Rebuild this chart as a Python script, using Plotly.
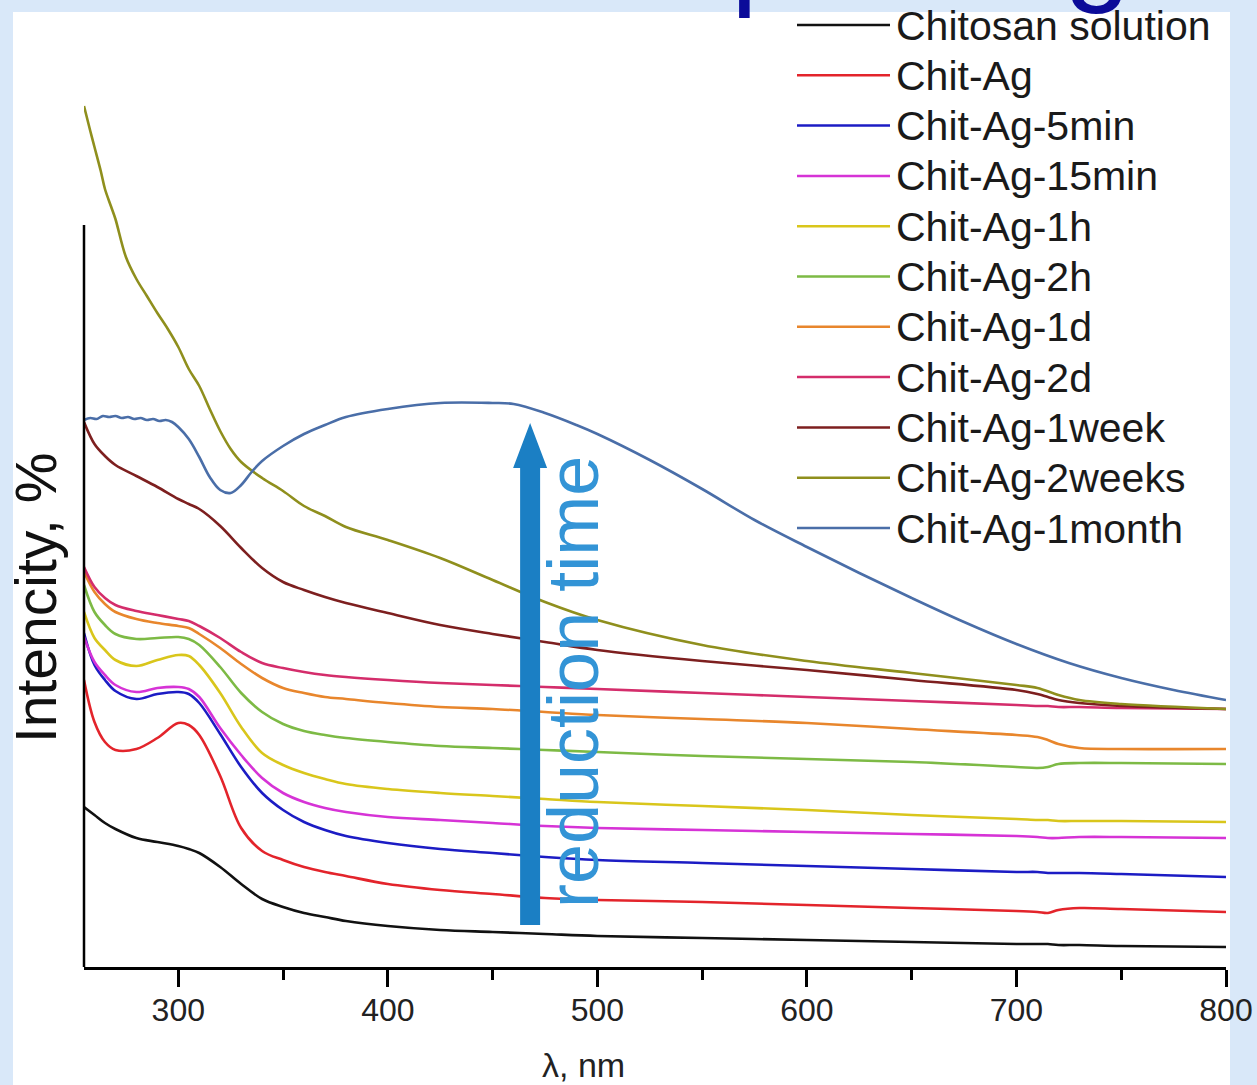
import plotly.graph_objects as go

# ---------------- data ----------------
wavelength_nm = [255, 260, 265, 270, 280, 290, 300, 305, 310,
                 320, 330, 340, 350, 360, 370, 380,
                 400, 425, 450, 475, 500,
                 550, 600, 650, 700,
                 710, 715, 720, 730, 750, 800]

chitosan_solution = [16.0, 15.2, 14.4, 13.8, 12.9, 12.5, 12.1, 11.8, 11.4,
                     10.0, 8.3, 6.8, 6.0, 5.4, 5.0, 4.6,
                     4.1, 3.7, 3.5, 3.3, 3.1,
                     2.9, 2.7, 2.5, 2.3,
                     2.3, 2.3, 2.2, 2.2, 2.1, 2.0]

chit_ag = [28.7, 24.5, 22.5, 21.7, 21.8, 22.9, 24.4, 24.2, 23.2,
           19.1, 13.9, 11.6, 10.7, 10.0, 9.5, 9.1,
           8.3, 7.7, 7.3, 6.9, 6.7,
           6.5, 6.2, 5.9, 5.6,
           5.5, 5.4, 5.7, 5.9, 5.8, 5.5]

chit_ag_5min = [33.4, 30.2, 28.7, 27.6, 26.8, 27.3, 27.5, 27.3, 26.4,
                23.3, 20.0, 17.4, 15.7, 14.5, 13.7, 13.1,
                12.4, 11.8, 11.4, 11.0, 10.7,
                10.4, 10.1, 9.8, 9.5,
                9.5, 9.4, 9.4, 9.4, 9.3, 9.0]

chit_ag_15min = [33.0, 30.5, 29.2, 28.2, 27.5, 27.9, 28.0, 27.8, 27.0,
                 23.9, 21.2, 18.9, 17.4, 16.5, 15.9, 15.5,
                 15.0, 14.7, 14.4, 14.1, 13.9,
                 13.7, 13.5, 13.3, 13.1,
                 13.0, 12.9, 12.9, 13.0, 13.0, 12.9]

chit_ag_1h = [35.5, 32.9, 31.7, 30.7, 30.1, 30.7, 31.2, 31.1, 30.2,
              27.4, 24.0, 21.4, 20.2, 19.4, 18.8, 18.3,
              17.8, 17.4, 17.1, 16.8, 16.5,
              16.1, 15.7, 15.2, 14.8,
              14.7, 14.7, 14.6, 14.6, 14.6, 14.5]

chit_ag_2h = [38.2, 35.5, 34.2, 33.3, 32.8, 32.9, 33.0, 32.8, 32.2,
              30.0, 27.4, 25.5, 24.3, 23.6, 23.2, 22.9,
              22.5, 22.1, 21.9, 21.7, 21.5,
              21.1, 20.8, 20.5, 20.0,
              19.9, 20.0, 20.3, 20.4, 20.4, 20.3]

chit_ag_1d = [39.5, 37.5, 36.3, 35.5, 34.8, 34.4, 34.1, 33.9, 33.3,
              31.9, 30.3, 28.9, 27.9, 27.4, 27.0, 26.8,
              26.4, 26.0, 25.8, 25.5, 25.2,
              24.8, 24.4, 23.8, 23.2,
              23.0, 22.7, 22.3, 21.9, 21.8, 21.8]

chit_ag_2d = [40.0, 38.0, 36.9, 36.2, 35.6, 35.2, 34.8, 34.6, 34.1,
              32.9, 31.5, 30.4, 29.9, 29.5, 29.2, 29.0,
              28.7, 28.4, 28.2, 28.0, 27.8,
              27.4, 27.0, 26.6, 26.2,
              26.1, 26.1, 26.0, 26.0, 25.9, 25.8]

chit_ag_1week = [54.5, 52.3, 51.1, 50.2, 49.1, 48.0, 46.8, 46.3, 45.8,
                 44.1, 41.9, 39.9, 38.5, 37.7, 37.0, 36.4,
                 35.4, 34.2, 33.3, 32.5, 31.7,
                 30.6, 29.7, 28.7, 27.7,
                 27.3, 27.0, 26.7, 26.4, 26.1, 25.8]

wavelength_2weeks_nm = [255, 258, 260, 263, 265, 268, 270, 275, 280, 285, 290, 295,
                        300, 305, 310, 315, 320, 325, 330, 340, 350, 360, 370, 380,
                        400, 425, 450, 475, 500, 550, 600, 650, 700, 710, 720, 730,
                        750, 800]
chit_ag_2weeks = [86.1, 83.6, 82.0, 79.6, 77.8, 76.0, 74.8, 71.0, 68.8, 67.1, 65.4, 63.8,
                  62.0, 59.8, 58.1, 55.8, 53.6, 51.8, 50.5, 48.9, 47.6, 46.1, 45.1, 44.0,
                  42.7, 40.9, 38.7, 36.5, 34.7, 32.2, 30.6, 29.4, 28.2, 27.9, 27.2, 26.7,
                  26.3, 25.8]

wavelength_1month_nm = [255, 258, 261, 264, 267, 270, 273, 276, 279, 282, 285, 288, 291,
                        294, 297, 300, 305, 310, 315, 320, 325, 330, 335, 340, 350, 360,
                        370, 380, 400, 425, 450, 460, 475, 490, 500, 525, 550, 575, 600,
                        625, 650, 675, 700, 725, 750, 775, 800]
chit_ag_1month = [54.7, 54.9, 54.8, 55.1, 55.0, 55.1, 54.9, 55.0, 54.8, 54.9, 54.7, 54.8, 54.6,
                  54.7, 54.5, 54.0, 52.8, 51.0, 49.0, 47.7, 47.4, 48.2, 49.5, 50.6, 52.1, 53.3,
                  54.2, 55.0, 55.8, 56.4, 56.4, 56.3, 55.4, 54.2, 53.3, 50.7, 47.8, 44.7, 42.0,
                  39.4, 36.9, 34.5, 32.3, 30.4, 28.9, 27.7, 26.7]

series_names = ["Chitosan solution", "Chit-Ag", "Chit-Ag-5min", "Chit-Ag-15min",
                "Chit-Ag-1h", "Chit-Ag-2h", "Chit-Ag-1d", "Chit-Ag-2d",
                "Chit-Ag-1week", "Chit-Ag-2weeks", "Chit-Ag-1month"]
series_x = [wavelength_nm] * 9 + [wavelength_2weeks_nm, wavelength_1month_nm]
series_y = [chitosan_solution, chit_ag, chit_ag_5min, chit_ag_15min, chit_ag_1h,
            chit_ag_2h, chit_ag_1d, chit_ag_2d, chit_ag_1week, chit_ag_2weeks,
            chit_ag_1month]
series_colors = ["#111111", "#e3242b", "#1c1cc4", "#d633d6", "#d9c61b", "#7dba45",
                 "#e8862c", "#d42d6b", "#7d1f1f", "#8f8f1d", "#4a6ea8"]

x_ticks = [300, 400, 500, 600, 700, 800]
x_minor_ticks = [350, 450, 550, 650, 750]

# ---------------- layout geometry ----------------
W, H = 1257, 1085
ML, MR, MT, MB = 84, 31, 95, 118
PW = W - ML - MR
PH = H - MT - MB
FONT = "Liberation Sans, Arial, Helvetica, sans-serif"


def px_x(px):
    return (px - ML) / PW


def px_y(py):
    return (H - MB - py) / PH


fig = go.Figure()
for name, xs, ys, col in zip(series_names, series_x, series_y, series_colors):
    fig.add_trace(go.Scatter(x=xs, y=ys, name=name, mode="lines",
                             line=dict(color=col, width=2.6, shape="spline", smoothing=1.0),
                             showlegend=False))

shapes = []
annotations = []

# slide background: white panel over light-blue paper
shapes.append(dict(type="rect", xref="paper", yref="paper", layer="below",
                   x0=px_x(13), x1=px_x(1230), y0=px_y(1085), y1=px_y(12),
                   fillcolor="white", line=dict(width=0)))

# y axis line (only up to part of the height)
shapes.append(dict(type="line", xref="paper", yref="y", x0=0, x1=0, y0=0, y1=74.2,
                   line=dict(color="black", width=2.5)))

# reduction-time arrow
xc, hs, hh = 467.9, 4.77, 8.11
y_bot, y_base, y_tip = 4.2, 49.9, 54.4
path = (f"M {xc-hs},{y_bot} L {xc+hs},{y_bot} L {xc+hs},{y_base} L {xc+hh},{y_base} "
        f"L {xc},{y_tip} L {xc-hh},{y_base} L {xc-hs},{y_base} Z")
shapes.append(dict(type="path", xref="x", yref="y", path=path, layer="above",
                   fillcolor="#1b7fc4", line=dict(width=0)))

annotations.append(dict(text="reduction time", textangle=-90, showarrow=False,
                        xref="paper", yref="paper", x=px_x(573), y=px_y(682),
                        xanchor="center", yanchor="middle",
                        font=dict(family=FONT, size=72, color="#3394d6")))

# manual legend
for i, (name, col) in enumerate(zip(series_names, series_colors)):
    yrow = 25 + 50.3 * i
    shapes.append(dict(type="line", xref="paper", yref="paper",
                       x0=px_x(797), x1=px_x(890), y0=px_y(yrow), y1=px_y(yrow),
                       line=dict(color=col, width=2.5)))
    annotations.append(dict(text=name, showarrow=False, xref="paper", yref="paper",
                            x=px_x(894), y=px_y(yrow + 0.5), xanchor="left", yanchor="middle",
                            font=dict(family=FONT, size=41, color="#1a1a1a")))

# axis titles
annotations.append(dict(text="λ, nm", showarrow=False, xref="paper", yref="paper",
                        x=px_x(583), y=px_y(1065), xanchor="center", yanchor="middle",
                        font=dict(family=FONT, size=34, color="#222222")))
annotations.append(dict(text="Intencity, %", textangle=-90, showarrow=False,
                        xref="paper", yref="paper", x=px_x(36), y=px_y(598),
                        xanchor="center", yanchor="middle",
                        font=dict(family=FONT, size=57, color="#111111")))

# cut-off slide title letters at the top edge (only their lower parts show)
annotations.append(dict(text="p", showarrow=False, xref="paper", yref="paper",
                        x=px_x(764), y=px_y(20), xanchor="center", yanchor="bottom",
                        font=dict(family=FONT, size=120, color="#0b0b99")))
annotations.append(dict(text="g", showarrow=False, xref="paper", yref="paper",
                        x=px_x(1097), y=px_y(16), xanchor="center", yanchor="bottom",
                        font=dict(family=FONT, size=120, color="#0b0b99")))

fig.update_layout(
    width=W, height=H,
    margin=dict(l=ML, r=MR, t=MT, b=MB, autoexpand=False),
    paper_bgcolor="#d9e8f9",
    plot_bgcolor="white",
    shapes=shapes,
    annotations=annotations,
    showlegend=False,
    font=dict(family=FONT),
)
fig.update_xaxes(range=[255, 800], automargin=False, showline=True, linecolor="black",
                 linewidth=2.5, ticks="outside", ticklen=17, tickwidth=2.5, tickcolor="black",
                 tickvals=x_ticks, ticktext=[str(t) for t in x_ticks],
                 ticklabelstandoff=-4,
                 minor=dict(ticks="outside", ticklen=10, tickwidth=2.5, tickcolor="black",
                            tickvals=x_minor_ticks),
                 showgrid=False, zeroline=False,
                 tickfont=dict(family=FONT, size=32, color="#222222"))
fig.update_yaxes(range=[0, 87.2], automargin=False, showline=False, showticklabels=False,
                 ticks="", showgrid=False, zeroline=False)

fig.write_html("out.html")
